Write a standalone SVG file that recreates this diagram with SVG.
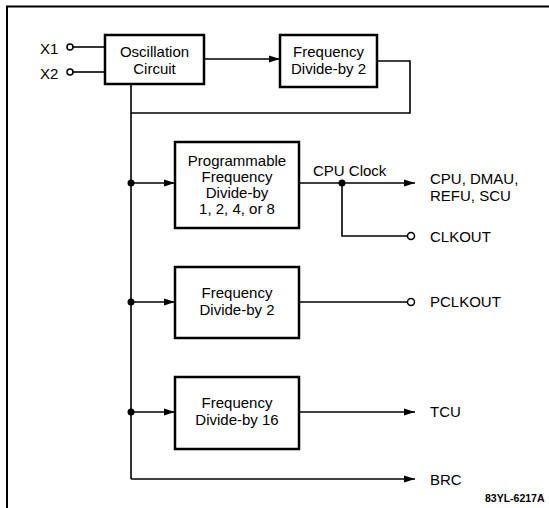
<svg xmlns="http://www.w3.org/2000/svg" width="549" height="508" viewBox="0 0 549 508">
<style>
.box{fill:#fff;stroke:#000;stroke-width:2.5}
.ln{fill:none;stroke:#000;stroke-width:1.6}
.ar{fill:none;stroke:#000;stroke-width:1.6;marker-end:url(#ah)}
.t{font-family:"Liberation Sans",Arial,sans-serif;font-size:15px;fill:#000}
.c{text-anchor:middle}
.dot{fill:#000}
.oc{fill:#fff;stroke:#000;stroke-width:1.5}
</style>
<defs>
<marker id="ah" markerUnits="userSpaceOnUse" markerWidth="12" markerHeight="8" refX="11" refY="4" orient="auto">
<path d="M0,0.5 L11,4 L0,7.5 z" fill="#000"/>
</marker>
</defs>
<rect width="549" height="508" fill="#fff"/>
<path d="M7,508 V6.5 H549" fill="none" stroke="#000" stroke-width="2"/>

<g id="connectors">
<path class="ln" d="M73,47 H105"/>
<path class="ln" d="M73,72 H105"/>
<path class="ar" d="M204,59 H280"/>
<path class="ln" d="M377,61 H410 V113 H131"/>
<path class="ln" d="M131,84 V479"/>
<path class="ar" d="M131,183 H175"/>
<path class="ar" d="M131,302 H175"/>
<path class="ar" d="M131,412 H175"/>
<path class="ar" d="M131,479 H415"/>
<path class="ar" d="M299,183 H415"/>
<path class="ln" d="M342,183 V236 H407.5"/>
<path class="ln" d="M299,302 H407.5"/>
<path class="ar" d="M299,412 H415"/>
<circle class="dot" cx="131" cy="183" r="3.5"/>
<circle class="dot" cx="131" cy="302" r="3.5"/>
<circle class="dot" cx="131" cy="412" r="3.5"/>
<circle class="dot" cx="342" cy="183" r="3.5"/>
<text class="t" x="313" y="176">CPU Clock</text>
</g>

<g id="x1"><circle class="oc" cx="70" cy="47" r="3"/><text class="t" x="40" y="54">X1</text></g>
<g id="x2"><circle class="oc" cx="70" cy="72" r="3"/><text class="t" x="40" y="79">X2</text></g>

<g id="osc">
<rect class="box" x="105" y="35" width="99" height="49"/>
<text class="t c" x="154.5" y="57">Oscillation</text>
<text class="t c" x="154.5" y="74">Circuit</text>
</g>

<g id="div2top">
<rect class="box" x="280" y="35" width="97" height="52"/>
<text class="t c" x="328.5" y="57">Frequency</text>
<text class="t c" x="328.5" y="74">Divide-by 2</text>
</g>

<g id="progdiv">
<rect class="box" x="175" y="142" width="124" height="86"/>
<text class="t c" x="237" y="166">Programmable</text>
<text class="t c" x="237" y="182">Frequency</text>
<text class="t c" x="237" y="198">Divide-by</text>
<text class="t c" x="237" y="214">1, 2, 4, or 8</text>
</g>

<g id="div2">
<rect class="box" x="175" y="267" width="124" height="71"/>
<text class="t c" x="237" y="298">Frequency</text>
<text class="t c" x="237" y="315">Divide-by 2</text>
</g>

<g id="div16">
<rect class="box" x="175" y="377" width="124" height="72"/>
<text class="t c" x="237" y="408">Frequency</text>
<text class="t c" x="237" y="425">Divide-by 16</text>
</g>

<g id="cpu"><text class="t" x="430" y="184">CPU, DMAU,</text><text class="t" x="430" y="201">REFU, SCU</text></g>
<g id="clkout"><circle class="oc" cx="411" cy="236" r="3.5"/><text class="t" x="430" y="242">CLKOUT</text></g>
<g id="pclkout"><circle class="oc" cx="411" cy="302" r="3.5"/><text class="t" x="430" y="307">PCLKOUT</text></g>
<g id="tcu"><text class="t" x="430" y="417">TCU</text></g>
<g id="brc"><text class="t" x="430" y="485">BRC</text></g>
<text x="485" y="502" font-family="Liberation Sans,Arial,sans-serif" font-size="10.5" font-weight="bold">83YL-6217A</text>
</svg>
